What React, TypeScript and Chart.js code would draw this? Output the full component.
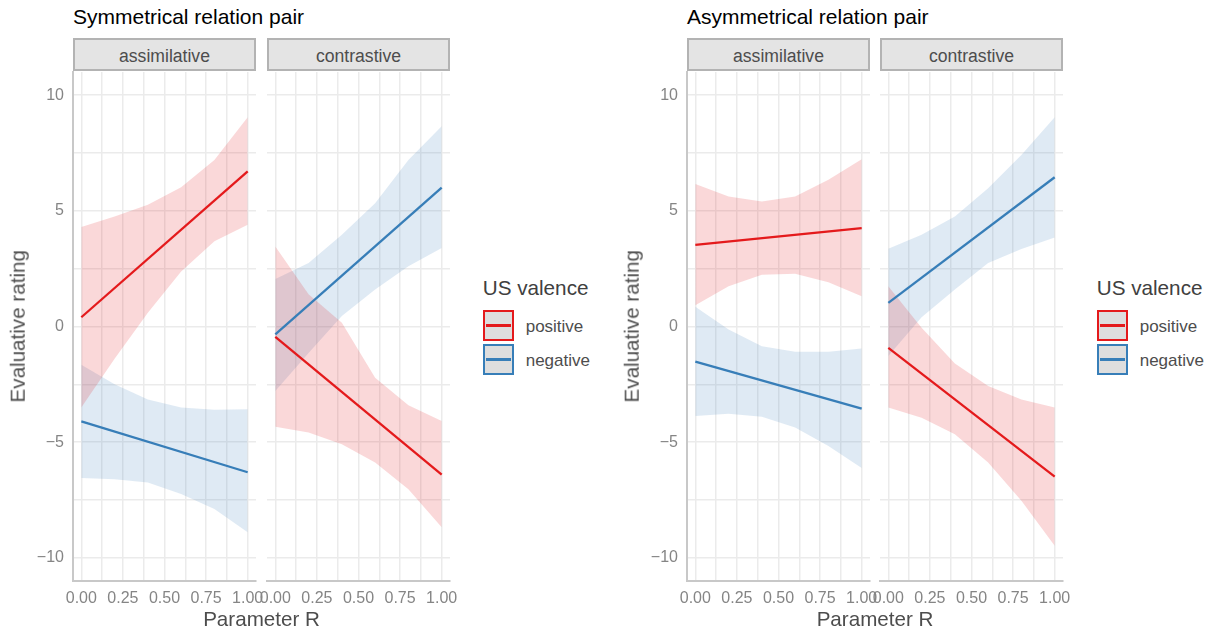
import React, { useEffect, useRef } from "react";
import { Chart, registerables } from "chart.js";

Chart.register(...registerables);

// ---------- data ----------
const GROUP_TITLES = ["Symmetrical relation pair", "Asymmetrical relation pair"];
const FACET_NAMES = ["assimilative", "contrastive"];
const SERIES_NAMES = ["positive", "negative"];
const LEGEND_TITLE = "US valence";
const X_TITLE = "Parameter R";
const Y_TITLE = "Evaluative rating";

const X_BAND = [0, 0.2, 0.4, 0.6, 0.8, 1];
const X_LINE = [0, 1];
const X_TICK_LABELS = [0, 0.25, 0.5, 0.75, 1];
const Y_TICK_LABELS = [-10, -5, 0, 5, 10];

// Symmetrical – assimilative
const symAssimPosLine = [0.4, 6.7];
const symAssimPosUpper = [4.3, 4.75, 5.26, 6.02, 7.2, 9.04];
const symAssimPosLower = [-3.5, -1.39, 0.59, 2.38, 3.68, 4.4];
const symAssimNegLine = [-4.1, -6.3];
const symAssimNegUpper = [-1.65, -2.5, -3.15, -3.5, -3.6, -3.58];
const symAssimNegLower = [-6.55, -6.6, -6.74, -7.24, -7.89, -8.89];
// Symmetrical – contrastive
const symContrPosLine = [-0.45, -6.4];
const symContrPosUpper = [3.46, 1.39, 0.16, -2.21, -3.4, -4.08];
const symContrPosLower = [-4.33, -4.58, -5.09, -5.88, -7.03, -8.68];
const symContrNegLine = [-0.34, 6.0];
const symContrNegUpper = [2.05, 2.74, 3.97, 5.33, 7.2, 8.66];
const symContrNegLower = [-2.79, -1.15, 0.45, 1.6, 2.6, 3.39];
// Asymmetrical – assimilative
const asymAssimPosLine = [3.53, 4.25];
const asymAssimPosUpper = [6.16, 5.62, 5.4, 5.62, 6.34, 7.23];
const asymAssimPosLower = [0.92, 1.74, 2.24, 2.28, 1.91, 1.31];
const asymAssimNegLine = [-1.52, -3.55];
const asymAssimNegUpper = [0.85, -0.13, -0.85, -1.09, -1.09, -0.95];
const asymAssimNegLower = [-3.87, -3.77, -3.9, -4.37, -5.16, -6.12];
// Asymmetrical – contrastive
const asymContrPosLine = [-0.92, -6.49];
const asymContrPosUpper = [1.74, -0.05, -1.6, -2.57, -3.15, -3.5];
const asymContrPosLower = [-3.5, -3.94, -4.66, -5.88, -7.53, -9.48];
const asymContrNegLine = [1.02, 6.45];
const asymContrNegUpper = [3.36, 3.97, 4.75, 5.98, 7.41, 9.04];
const asymContrNegLower = [-1.28, 0.4, 1.6, 2.74, 3.35, 3.85];

// ---------- style ----------
const FONT = "'Liberation Sans', Arial, Helvetica, sans-serif";
const RED = "#E41A1C";
const BLUE = "#377EB8";
const RED_FILL = "rgba(228,26,28,0.17)";
const BLUE_FILL = "rgba(55,126,184,0.16)";
const GRID = "#ebebeb";
const AXIS = "#c8c8c8";
const TICK_COLOR = "#858585";

const PANEL_TOP = 72;
const PANEL_H = 509;
const PANEL_W = 183;
const MARGIN_L = 70;
const MARGIN_R = 25;
const MARGIN_T = 30;
const MARGIN_B = 45;
const GROUP_LEFTS = [
  [73, 267],
  [687, 880],
];
const GROUP_SHIFT = 614;

type FacetData = {
  posLine: number[];
  posUpper: number[];
  posLower: number[];
  negLine: number[];
  negUpper: number[];
  negLower: number[];
};

const FACETS: FacetData[][] = [
  [
    { posLine: symAssimPosLine, posUpper: symAssimPosUpper, posLower: symAssimPosLower, negLine: symAssimNegLine, negUpper: symAssimNegUpper, negLower: symAssimNegLower },
    { posLine: symContrPosLine, posUpper: symContrPosUpper, posLower: symContrPosLower, negLine: symContrNegLine, negUpper: symContrNegUpper, negLower: symContrNegLower },
  ],
  [
    { posLine: asymAssimPosLine, posUpper: asymAssimPosUpper, posLower: asymAssimPosLower, negLine: asymAssimNegLine, negUpper: asymAssimNegUpper, negLower: asymAssimNegLower },
    { posLine: asymContrPosLine, posUpper: asymContrPosUpper, posLower: asymContrPosLower, negLine: asymContrNegLine, negUpper: asymContrNegUpper, negLower: asymContrNegLower },
  ],
];

const pts = (xs: number[], ys: number[]) => xs.map((x, i) => ({ x, y: ys[i] }));

function FacetChart({ data, left, showY }: { data: FacetData; left: number; showY: boolean }) {
  const ref = useRef<HTMLCanvasElement>(null);
  const W = MARGIN_L + PANEL_W + MARGIN_R;
  const H = MARGIN_T + PANEL_H + MARGIN_B;
  useEffect(() => {
    const band = (ys: number[], fill: string, f: any) => ({
      data: pts(X_BAND, ys),
      borderColor: "rgba(0,0,0,0)",
      borderWidth: 0,
      backgroundColor: fill,
      pointRadius: 0,
      fill: f,
      tension: 0,
    });
    const line = (ys: number[], color: string) => ({
      data: pts(X_LINE, ys),
      borderColor: color,
      borderWidth: 2.3,
      pointRadius: 0,
      fill: false,
    });
    const chart = new Chart(ref.current as HTMLCanvasElement, {
      type: "line",
      data: {
        datasets: [
          line(data.posLine, RED),
          line(data.negLine, BLUE),
          band(data.posUpper, RED_FILL, "+1"),
          band(data.posLower, RED_FILL, false),
          band(data.negUpper, BLUE_FILL, "+1"),
          band(data.negLower, BLUE_FILL, false),
        ] as any,
      },
      options: {
        responsive: false,
        animation: false,
        devicePixelRatio: 1,
        layout: { padding: { left: showY ? 0 : MARGIN_L, right: MARGIN_R, top: MARGIN_T, bottom: 0 } },
        plugins: { legend: { display: false }, tooltip: { enabled: false }, title: { display: false } },
        scales: {
          x: {
            type: "linear",
            min: -0.05,
            max: 1.05,
            afterFit: (s: any) => {
              s.height = MARGIN_B;
            },
            border: { display: true, color: AXIS, width: 2 },
            grid: { color: GRID, lineWidth: 1.5, drawTicks: false },
            ticks: {
              stepSize: 0.125,
              includeBounds: false,
              autoSkip: false,
              maxRotation: 0,
              minRotation: 0,
              padding: 7.5,
              color: TICK_COLOR,
              font: { family: FONT, size: 16 },
              callback: (v: any) => (X_TICK_LABELS.includes(Number(v)) ? Number(v).toFixed(2) : ""),
            },
          },
          y: {
            type: "linear",
            min: -11,
            max: 11,
            afterFit: (s: any) => {
              s.width = showY ? MARGIN_L : 0;
            },
            border: { display: showY, color: AXIS, width: 2 },
            grid: { color: GRID, lineWidth: 1.5, drawTicks: false },
            ticks: {
              display: showY,
              stepSize: 2.5,
              includeBounds: false,
              padding: 9,
              color: TICK_COLOR,
              font: { family: FONT, size: 16 },
              callback: (v: any) => {
                const n = Number(v);
                if (!Y_TICK_LABELS.includes(n)) return "";
                return n < 0 ? "\u2212" + Math.abs(n) : String(n);
              },
            },
          },
        },
      } as any,
    });
    return () => chart.destroy();
  }, []);
  return (
    <canvas
      ref={ref}
      width={W}
      height={H}
      style={{ position: "absolute", left: left - MARGIN_L, top: PANEL_TOP - MARGIN_T, width: W, height: H }}
    />
  );
}

const abs = (l: number, t: number, extra: any = {}) => ({ position: "absolute" as const, left: l, top: t, whiteSpace: "nowrap" as const, lineHeight: 1, ...extra });

export default function App() {
  return (
    <div style={{ position: "fixed", left: 0, top: 0, width: 1215, height: 640, background: "#fff", fontFamily: FONT, overflow: "hidden" }}>
      {GROUP_TITLES.map((title, g) => {
        const [l1, l2] = GROUP_LEFTS[g];
        const shift = g * GROUP_SHIFT;
        return (
          <React.Fragment key={g}>
            <div style={abs(l1, 5.5, { fontSize: 21, color: "#000" })}>{title}</div>
            <FacetChart data={FACETS[g][0]} left={l1} showY={true} />
            <FacetChart data={FACETS[g][1]} left={l2} showY={false} />
            {FACET_NAMES.map((name, f) => (
              <div
                key={name}
                style={{
                  position: "absolute",
                  left: f === 0 ? l1 : l2,
                  top: 38,
                  width: PANEL_W,
                  height: 33,
                  boxSizing: "border-box",
                  background: "#e4e4e4",
                  border: "2px solid #b3b3b3",
                  display: "flex",
                  alignItems: "center",
                  justifyContent: "center",
                  fontSize: 17.6,
                  lineHeight: 1,
                  color: "#4d4d4d",
                  paddingTop: 5,
                }}
              >
                {name}
              </div>
            ))}
            <div
              style={{
                position: "absolute",
                left: 17.9 + shift - 100,
                top: 326.5 - 10.3,
                width: 200,
                textAlign: "center",
                fontSize: 20.6,
                lineHeight: 1,
                color: "#4d4d4d",
                transform: "rotate(-90deg)",
                transformOrigin: "50% 50%",
                whiteSpace: "nowrap",
              }}
            >
              {Y_TITLE}
            </div>
            <div
              style={{
                position: "absolute",
                left: (l1 + l2 + PANEL_W) / 2 - 100,
                top: 609.3,
                width: 200,
                textAlign: "center",
                fontSize: 20.6,
                lineHeight: 1,
                color: "#4d4d4d",
                whiteSpace: "nowrap",
              }}
            >
              {X_TITLE}
            </div>
            <div style={abs(482.7 + shift, 278.2, { fontSize: 20.7, color: "#404040" })}>{LEGEND_TITLE}</div>
            {SERIES_NAMES.map((s, i) => {
              const color = i === 0 ? RED : BLUE;
              const top = i === 0 ? 309.5 : 343.5;
              return (
                <React.Fragment key={s}>
                  <div
                    style={{
                      position: "absolute",
                      left: 483 + shift,
                      top,
                      width: 31,
                      height: 31,
                      boxSizing: "border-box",
                      border: `2px solid ${color}`,
                      background: "#dedede",
                    }}
                  >
                    <div style={{ position: "absolute", left: 1, right: 1, top: 12.5, height: 2.5, background: color }} />
                  </div>
                  <div style={abs(525.7 + shift, top + 8.5, { fontSize: 17, color: "#4d4d4d" })}>{s}</div>
                </React.Fragment>
              );
            })}
          </React.Fragment>
        );
      })}
    </div>
  );
}
